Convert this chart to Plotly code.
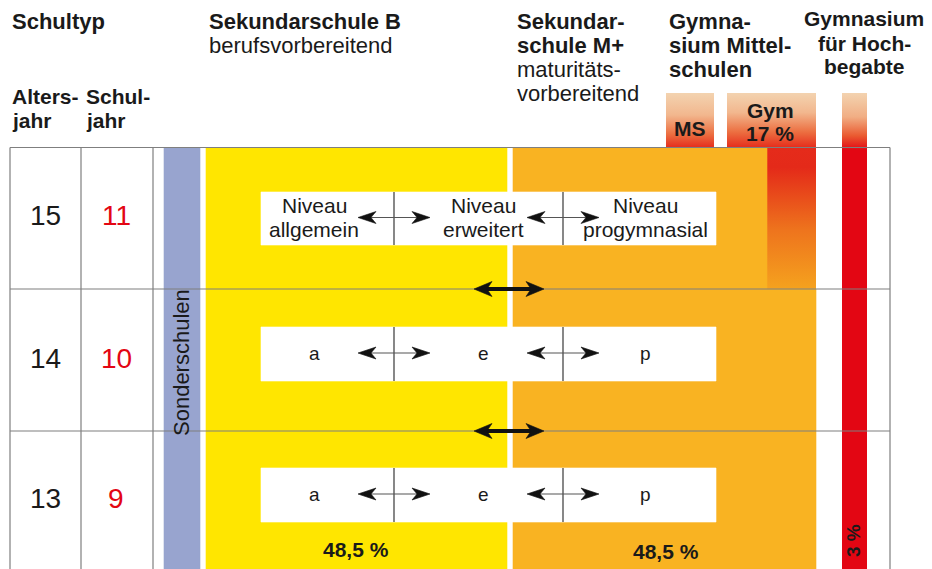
import plotly.graph_objects as go

# ---------------- data ----------------
ages = [15, 14, 13]
school_years = [11, 10, 9]
niveau_line1 = ["Niveau", "Niveau", "Niveau"]
niveau_line2 = ["allgemein", "erweitert", "progymnasial"]
niveau_short = ["a", "e", "p"]
share_sek_b = 48.5
share_sek_m = 48.5
share_gym = 17
share_hochbegabte = 3

FONT = "Liberation Sans"
RED = "#e30613"
ORANGE = "#f9b322"
YELLOW = "#ffe600"
LAVENDER = "#98a4cf"
GRID = "#7f7f7f"
PEACH = "#f3d3b0"

# ---------------- layout constants (pixel space) ----------------
W, H = 932, 569
OFF = 8  # page body margin compensation
box_top, box_left, box_right = 147.5, 10, 890
row_bounds = [147.5, 289, 431, 569]
col_lines = [10, 81, 153]

fig = go.Figure()

def poly(xs, ys, color):
    fig.add_trace(go.Scatter(x=xs + [xs[0]], y=ys + [ys[0]], mode="lines", fill="toself",
                             fillcolor=color, line=dict(width=0.6, color=color),
                             hoverinfo="skip", showlegend=False))

def rect(x0, x1, y0, y1, color):
    poly([x0, x1, x1, x0], [y0, y0, y1, y1], color)

def grad_rect(x0, x1, y0, y1, stops):
    fig.add_trace(go.Scatter(x=[x0, x1, x1, x0, x0], y=[y0, y0, y1, y1, y0], mode="lines",
                             fill="toself", line=dict(width=0), hoverinfo="skip", showlegend=False,
                             fillgradient=dict(type="vertical", colorscale=stops, start=y0, stop=y1)))

def line(xs, ys, color=GRID, width=1.2):
    fig.add_trace(go.Scatter(x=xs, y=ys, mode="lines", line=dict(color=color, width=width),
                             hoverinfo="skip", showlegend=False))

def text(x, y, s, size, bold=False, color="#1a1a1a", xanchor="center", angle=0):
    fig.add_annotation(x=x, y=y, xref="x", yref="y", text=f"<b>{s}</b>" if bold else s,
                       showarrow=False, xanchor=xanchor, yanchor="middle", textangle=angle,
                       font=dict(family=FONT, size=size, color=color))

def head(tip_x, y, direction, length, half, color="#111"):
    back = tip_x - direction * length
    notch = tip_x - direction * length * 0.72
    poly([tip_x, back, notch, back], [y, y - half, y, y + half], color)

# gradient columns (behind)
grad_rect(727, 816, 93, 289, [[0, PEACH], [0.1, "#f2b78e"], [0.2, "#ec6e40"], [0.28, "#e52b1b"],
                              [0.38, "#e42a19"], [0.7, "#ee741d"], [1, "#f5a21e"]])
grad_rect(666, 714, 93, 148, [[0, PEACH], [0.4, "#f2b78e"], [0.75, "#ec6e40"], [1, "#e52b1b"]])
grad_rect(842, 867, 93, 569, [[0, PEACH], [0.05, "#f1ae84"], [0.09, "#ea5a30"], [0.12, RED], [1, RED]])

# blocks
rect(164, 200, 148, 569, LAVENDER)
rect(206, 507, 148, 569, YELLOW)
poly([513, 767, 767, 816, 816, 513], [148, 148, 289, 289, 569, 569], ORANGE)

# grid
line([box_left, box_right], [box_top, box_top])
for xv in col_lines + [box_right]:
    line([xv, xv], [box_top, H])
for yv in row_bounds[1:3]:
    line([box_left, box_right], [yv, yv])

# white niveau boxes with arrows
box_y = [(192, 245), (327, 381), (468, 522)]
dividers = [394, 563]
text_x = [314, 483, 645]
for i, (y0, y1) in enumerate(box_y):
    rect(261, 716, y0, y1, "white")
    ym = (y0 + y1) / 2 - 1
    for d in dividers:
        line([d, d], [y0, y1], "#555", 1.4)
        line([d - 24, d + 24], [ym, ym], "#555", 1.2)
        head(d - 36, ym, -1, 18, 6)
        head(d + 36, ym, 1, 18, 6)
    if i == 0:
        for j in range(3):
            text(text_x[j], 205, niveau_line1[j], 21)
            text(text_x[j], 229, niveau_line2[j], 21)
    else:
        for j in range(3):
            text(text_x[j], ym, niveau_short[j], 19)

# thick arrows between rows
for yv in row_bounds[1:3]:
    line([487, 531], [yv, yv], "#111", 4)
    head(474, yv, -1, 18, 7.5)
    head(544, yv, 1, 18, 7.5)

# header texts
HB = 22
text(10, 21, "Schultyp", HB, True, xanchor="left")
text(10, 96, "Alters-", 21, True, xanchor="left")
text(10, 120, "jahr", 21, True, xanchor="left")
text(84, 96, "Schul-", 21, True, xanchor="left")
text(84, 120, "jahr", 21, True, xanchor="left")
text(207, 21, "Sekundarschule B", HB, True, xanchor="left")
text(207, 45, "berufsvorbereitend", HB, xanchor="left")
text(515, 21, "Sekundar-", HB, True, xanchor="left")
text(515, 45, "schule M+", HB, True, xanchor="left")
text(515, 69, "maturitäts-", HB, xanchor="left")
text(515, 93, "vorbereitend", HB, xanchor="left")
text(667, 21, "Gymna-", HB, True, xanchor="left")
text(667, 45, "sium Mittel-", HB, True, xanchor="left")
text(667, 69, "schulen", HB, True, xanchor="left")
text(864, 18, "Gymnasium", 21, True)
text(864, 43, "für Hoch-", 21, True)
text(864, 66, "begabte", 21, True)
text(690, 128, "MS", 21, True)
text(770, 110, "Gym", 21, True)
text(770, 133, f"{share_gym} %", 21, True)

# row labels
row_y = [215, 358, 498]
for a, s, yv in zip(ages, school_years, row_y):
    text(45, yv, str(a), 28)
    text(116, yv, str(s), 28, color=RED)

text(181, 363, "Sonderschulen", 22, angle=-90)
fmt = lambda v: f"{v:.1f}".replace(".", ",") + " %"
text(356, 549, fmt(share_sek_b), 21, True)
text(666, 551, fmt(share_sek_m), 21, True)
text(853, 541, f"{share_hochbegabte} %", 19, True, angle=-90)

fig.update_layout(
    width=W, height=H, margin=dict(l=0, r=0, t=0, b=0),
    paper_bgcolor="white", plot_bgcolor="white", showlegend=False,
    xaxis=dict(range=[OFF, W + OFF], visible=False, fixedrange=True),
    yaxis=dict(range=[H + OFF, OFF], visible=False, fixedrange=True),
)
fig.write_html("out.html")
